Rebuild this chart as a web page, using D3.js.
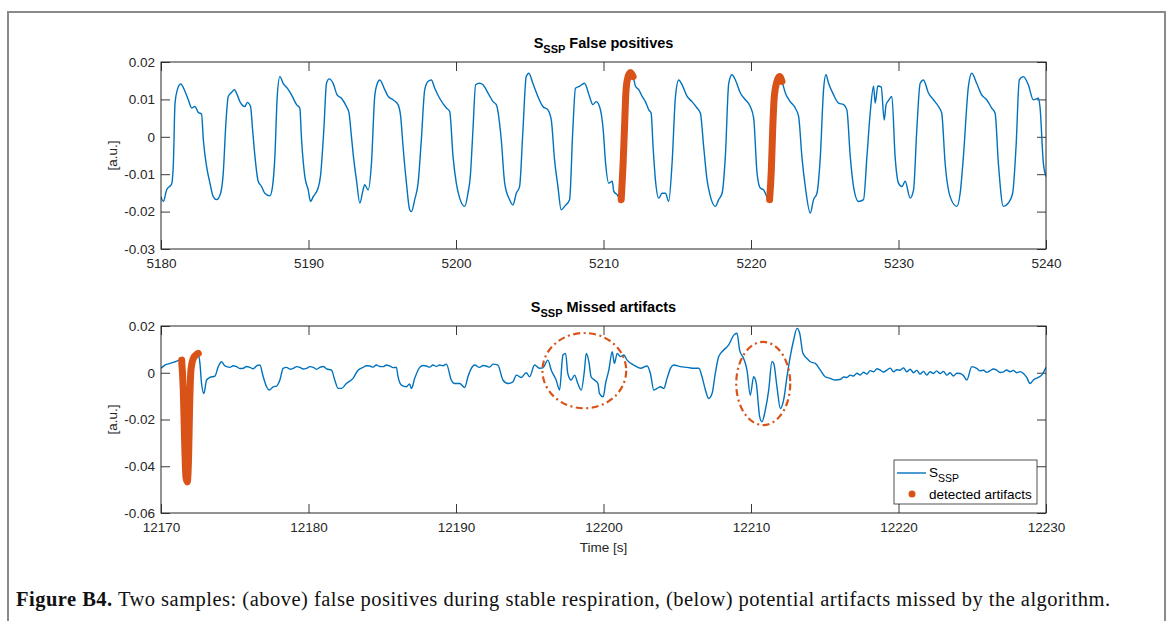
<!DOCTYPE html>
<html>
<head>
<meta charset="utf-8">
<script src="https://cdn.jsdelivr.net/npm/d3@7"></script>
<style>
  body { margin: 0; background: #fff; }
  svg { display: block; }
</style>
</head>
<body>
<script>
// --- data ---
var topTicksX = [5180, 5190, 5200, 5210, 5220, 5230, 5240];
var topTicksY = [-0.03, -0.02, -0.01, 0, 0.01, 0.02];
var bottomTicksX = [12170, 12180, 12190, 12200, 12210, 12220, 12230];
var bottomTicksY = [-0.06, -0.04, -0.02, 0, 0.02];

// S_SSP, false positive sample  [time s, value a.u.]
var topSignal = [
  [5180.00,-0.0160],[5180.16,-0.0173],[5180.38,-0.0142],[5180.72,-0.0126],[5180.84,-0.0070],
  [5180.95,0.0090],[5181.11,0.0126],[5181.33,0.0141],[5181.63,0.0121],[5181.85,0.0099],
  [5182.08,0.0077],[5182.30,0.0081],[5182.53,0.0065],[5182.75,0.0061],[5182.87,-0.0008],
  [5183.09,-0.0079],[5183.32,-0.0124],[5183.54,-0.0160],[5183.77,-0.0168],[5184.04,-0.0151],
  [5184.22,-0.0097],[5184.40,0.0037],[5184.56,0.0108],[5184.79,0.0119],[5184.97,0.0126],
  [5185.17,0.0112],[5185.35,0.0094],[5185.69,0.0081],[5185.85,0.0092],[5186.07,0.0081],
  [5186.21,0.0019],[5186.37,-0.0053],[5186.59,-0.0119],[5186.82,-0.0133],[5187.04,-0.0151],
  [5187.38,-0.0158],[5187.56,-0.0133],[5187.72,-0.0053],[5187.88,0.0108],[5188.06,0.0161],
  [5188.28,0.0143],[5188.56,0.0130],[5188.85,0.0112],[5189.19,0.0086],[5189.41,0.0077],
  [5189.53,-0.0008],[5189.75,-0.0106],[5189.98,-0.0142],[5190.14,-0.0173],[5190.32,-0.0160],
  [5190.65,-0.0137],[5190.81,-0.0106],[5191.04,0.0019],[5191.22,0.0143],[5191.40,0.0155],
  [5191.67,0.0143],[5191.94,0.0112],[5192.23,0.0103],[5192.57,0.0081],[5192.75,0.0063],
  [5192.91,0.0001],[5193.07,-0.0061],[5193.25,-0.0115],[5193.48,-0.0177],[5193.70,-0.0142],
  [5193.81,-0.0128],[5194.04,-0.0142],[5194.27,-0.0070],[5194.49,0.0108],[5194.67,0.0143],
  [5194.83,0.0152],[5195.17,0.0126],[5195.40,0.0108],[5195.73,0.0099],[5196.07,0.0086],
  [5196.25,0.0054],[5196.41,-0.0026],[5196.64,-0.0124],[5196.86,-0.0195],[5196.98,-0.0200],
  [5197.20,-0.0168],[5197.43,-0.0124],[5197.65,-0.0008],[5197.88,0.0126],[5198.10,0.0148],
  [5198.33,0.0152],[5198.56,0.0130],[5198.89,0.0103],[5199.35,0.0077],[5199.57,0.0068],
  [5199.80,-0.0053],[5200.02,-0.0124],[5200.25,-0.0164],[5200.59,-0.0186],[5200.81,-0.0151],
  [5200.97,-0.0106],[5201.15,0.0019],[5201.33,0.0139],[5201.60,0.0143],[5201.83,0.0139],
  [5202.17,0.0117],[5202.51,0.0094],[5202.73,0.0086],[5203.07,-0.0008],[5203.30,-0.0124],
  [5203.63,-0.0168],[5203.86,-0.0182],[5204.09,-0.0151],[5204.31,-0.0133],[5204.54,0.0019],
  [5204.76,0.0161],[5204.94,0.0170],[5205.21,0.0143],[5205.55,0.0108],[5205.89,0.0081],
  [5206.23,0.0072],[5206.46,0.0045],[5206.68,-0.0061],[5206.91,-0.0133],[5207.13,-0.0195],
  [5207.36,-0.0186],[5207.70,-0.0168],[5207.92,0.0019],[5208.10,0.0130],[5208.37,0.0135],
  [5208.71,0.0143],[5209.05,0.0108],[5209.28,0.0086],[5209.50,0.0094],[5209.73,0.0081],
  [5209.98,0.0019],[5210.14,-0.0070],[5210.36,-0.0124],[5210.59,-0.0119],[5210.70,-0.0146],
  [5210.93,-0.0155],[5211.15,-0.0168],[5211.20,-0.0168],[5211.33,-0.0070],[5211.42,0.0019],
  [5211.53,0.0126],[5211.67,0.0161],[5211.83,0.0172],[5212.01,0.0161],[5212.17,0.0135],
  [5212.39,0.0126],[5212.62,0.0108],[5212.84,0.0094],[5213.07,0.0072],[5213.23,0.0063],
  [5213.36,-0.0026],[5213.52,-0.0115],[5213.75,-0.0164],[5213.97,-0.0151],[5214.20,-0.0151],
  [5214.42,-0.0173],[5214.65,-0.0070],[5214.88,0.0108],[5215.10,0.0152],[5215.33,0.0139],
  [5215.67,0.0108],[5216.00,0.0094],[5216.34,0.0077],[5216.57,0.0063],[5216.79,-0.0026],
  [5217.02,-0.0115],[5217.25,-0.0160],[5217.58,-0.0186],[5217.81,-0.0168],[5218.04,-0.0151],
  [5218.26,-0.0053],[5218.49,0.0143],[5218.71,0.0166],[5218.94,0.0152],[5219.28,0.0117],
  [5219.62,0.0099],[5219.95,0.0081],[5220.18,0.0050],[5220.41,-0.0097],[5220.63,-0.0137],
  [5220.86,-0.0142],[5221.20,-0.0168],[5221.26,-0.0168],[5221.38,-0.0088],[5221.47,0.0019],
  [5221.58,0.0108],[5221.76,0.0148],[5221.94,0.0161],[5222.10,0.0148],[5222.33,0.0117],
  [5222.66,0.0094],[5223.00,0.0077],[5223.23,0.0054],[5223.45,-0.0053],[5223.68,-0.0133],
  [5224.02,-0.0204],[5224.24,-0.0168],[5224.47,-0.0151],[5224.70,-0.0053],[5224.92,0.0126],
  [5225.08,0.0166],[5225.26,0.0143],[5225.60,0.0112],[5225.94,0.0090],[5226.28,0.0086],
  [5226.50,0.0072],[5226.73,-0.0053],[5226.95,-0.0133],[5227.29,-0.0173],[5227.63,-0.0168],
  [5227.86,-0.0053],[5228.08,0.0063],[5228.31,0.0135],[5228.42,0.0090],[5228.60,0.0136],
  [5228.83,0.0133],[5229.03,0.0045],[5229.16,0.0086],[5229.32,0.0097],[5229.55,0.0108],
  [5229.77,-0.0053],[5230.00,-0.0124],[5230.23,-0.0133],[5230.45,-0.0119],[5230.79,-0.0164],
  [5231.02,-0.0142],[5231.24,0.0019],[5231.47,0.0143],[5231.69,0.0152],[5232.03,0.0117],
  [5232.37,0.0099],[5232.71,0.0081],[5232.93,0.0063],[5233.16,-0.0070],[5233.50,-0.0160],
  [5233.95,-0.0186],[5234.18,-0.0151],[5234.40,-0.0053],[5234.74,0.0135],[5234.97,0.0170],
  [5235.30,0.0143],[5235.64,0.0112],[5235.98,0.0099],[5236.32,0.0077],[5236.55,0.0063],
  [5236.77,-0.0070],[5237.11,-0.0186],[5237.45,-0.0177],[5237.74,-0.0151],[5237.97,-0.0026],
  [5238.19,0.0152],[5238.47,0.0161],[5238.80,0.0139],[5239.14,0.0099],[5239.48,0.0103],
  [5239.59,0.0081],[5239.82,-0.0070],[5240.00,-0.0106]
];

// detected artifacts on the upper sample
var topArtifacts = [
  [[5211.20,-0.0168],[5211.33,-0.0070],[5211.42,0.0019],[5211.53,0.0126],[5211.67,0.0161],[5211.83,0.0172],[5212.01,0.0161]],
  [[5221.26,-0.0168],[5221.38,-0.0088],[5221.47,0.0019],[5221.58,0.0108],[5221.76,0.0148],[5221.94,0.0161],[5222.10,0.0148]]
];

// S_SSP, missed artifact sample
var bottomSignal = [
  [12170.00,0.0019],[12170.27,0.0033],[12170.61,0.0040],[12170.95,0.0047],[12171.29,0.0054],
  [12171.40,0.0054],[12171.51,-0.0074],[12171.60,-0.0289],[12171.69,-0.0446],[12171.78,-0.0467],
  [12171.87,-0.0360],[12171.94,-0.0146],[12172.03,0.0011],[12172.19,0.0061],[12172.37,0.0076],
  [12172.53,0.0083],[12172.64,0.0040],[12172.75,-0.0046],[12172.91,-0.0089],[12173.09,-0.0031],
  [12173.32,-0.0020],[12173.66,-0.0014],[12173.88,0.0026],[12174.11,0.0047],[12174.33,0.0029],
  [12174.67,0.0023],[12174.90,0.0030],[12175.12,0.0026],[12175.35,0.0018],[12175.58,0.0019],
  [12175.80,0.0027],[12176.03,0.0023],[12176.25,0.0017],[12176.48,0.0029],[12176.70,0.0033],
  [12176.93,-0.0017],[12177.16,-0.0060],[12177.34,-0.0074],[12177.61,-0.0060],[12177.83,-0.0057],
  [12178.06,-0.0031],[12178.28,0.0019],[12178.51,0.0023],[12178.75,0.0015],[12178.96,0.0019],
  [12179.20,0.0026],[12179.41,0.0023],[12179.64,0.0016],[12179.86,0.0019],[12180.10,0.0026],
  [12180.32,0.0023],[12180.55,0.0015],[12180.77,0.0023],[12181.00,0.0027],[12181.22,0.0017],
  [12181.56,0.0011],[12181.78,-0.0031],[12182.01,-0.0067],[12182.23,-0.0067],[12182.57,-0.0046],
  [12183.02,-0.0024],[12183.36,0.0011],[12183.70,0.0023],[12183.92,0.0030],[12184.15,0.0029],
  [12184.38,0.0024],[12184.60,0.0033],[12184.83,0.0027],[12185.06,0.0026],[12185.28,0.0033],
  [12185.51,0.0029],[12185.74,0.0022],[12185.96,0.0023],[12186.07,-0.0017],[12186.30,-0.0053],
  [12186.64,-0.0060],[12186.85,-0.0048],[12186.98,-0.0067],[12187.20,-0.0024],[12187.54,0.0023],
  [12187.77,0.0031],[12187.99,0.0029],[12188.22,0.0024],[12188.44,0.0033],[12188.67,0.0027],
  [12188.89,0.0033],[12189.12,0.0030],[12189.35,0.0037],[12189.68,-0.0031],[12189.91,-0.0046],
  [12190.25,-0.0046],[12190.59,-0.0063],[12190.81,-0.0017],[12191.04,0.0019],[12191.26,0.0033],
  [12191.60,0.0023],[12191.83,0.0031],[12192.05,0.0029],[12192.28,0.0024],[12192.51,0.0037],
  [12192.84,0.0033],[12193.18,-0.0031],[12193.52,-0.0046],[12193.86,-0.0039],[12194.09,-0.0010],
  [12194.42,-0.0020],[12194.76,0.0000],[12194.99,-0.0017],[12195.33,0.0033],[12195.67,0.0019],
  [12195.89,0.0021],[12196.23,0.0054],[12196.46,0.0011],[12196.79,-0.0031],[12197.02,-0.0074],
  [12197.25,0.0076],[12197.43,0.0083],[12197.58,-0.0003],[12197.81,-0.0031],[12198.04,-0.0010],
  [12198.26,-0.0046],[12198.49,-0.0074],[12198.71,0.0011],[12198.83,0.0083],[12199.01,0.0047],
  [12199.16,-0.0017],[12199.39,-0.0031],[12199.62,-0.0046],[12199.73,-0.0089],[12199.98,-0.0103],
  [12200.14,-0.0046],[12200.36,0.0011],[12200.59,0.0090],[12200.74,0.0040],[12200.93,0.0083],
  [12201.15,0.0069],[12201.38,0.0076],[12201.60,0.0054],[12202.05,0.0033],[12202.51,0.0019],
  [12202.96,0.0029],[12203.18,-0.0003],[12203.41,-0.0074],[12203.63,-0.0067],[12203.86,-0.0060],
  [12204.09,-0.0067],[12204.31,-0.0024],[12204.54,0.0019],[12204.76,0.0033],[12205.21,0.0026],
  [12205.67,0.0023],[12206.12,0.0019],[12206.46,0.0019],[12206.68,-0.0017],[12206.91,-0.0074],
  [12207.13,-0.0110],[12207.36,-0.0089],[12207.58,-0.0003],[12207.81,0.0069],[12208.15,0.0097],
  [12208.49,0.0119],[12208.83,0.0161],[12209.05,0.0169],[12209.23,0.0097],[12209.50,0.0061],
  [12209.73,0.0011],[12209.95,-0.0096],[12210.18,-0.0017],[12210.36,-0.0046],[12210.59,-0.0189],
  [12210.74,-0.0210],[12210.97,-0.0160],[12211.20,-0.0074],[12211.42,0.0047],[12211.54,0.0040],
  [12211.76,-0.0060],[12211.99,-0.0153],[12212.21,-0.0117],[12212.44,-0.0017],[12212.66,0.0069],
  [12212.89,0.0140],[12213.12,0.0190],[12213.30,0.0169],[12213.52,0.0083],[12213.79,0.0061],
  [12214.02,0.0047],[12214.36,0.0040],[12214.70,0.0011],[12215.03,-0.0017],[12215.37,-0.0024],
  [12215.71,-0.0031],[12216.05,-0.0029],[12216.28,-0.0018],[12216.50,-0.0020],[12216.73,-0.0010],
  [12216.95,-0.0014],[12217.18,-0.0002],[12217.40,-0.0010],[12217.63,0.0002],[12217.86,-0.0006],
  [12218.08,0.0009],[12218.31,0.0004],[12218.54,0.0017],[12218.76,0.0011],[12218.99,0.0003],
  [12219.21,0.0011],[12219.44,0.0020],[12219.66,0.0004],[12219.89,0.0013],[12220.11,0.0011],
  [12220.34,0.0021],[12220.56,0.0004],[12220.79,0.0015],[12221.02,0.0000],[12221.24,0.0010],
  [12221.47,-0.0006],[12221.69,0.0006],[12221.92,-0.0010],[12222.14,0.0004],[12222.37,-0.0003],
  [12222.59,0.0008],[12222.82,-0.0003],[12223.05,0.0006],[12223.27,-0.0010],[12223.50,0.0000],
  [12223.72,-0.0014],[12223.95,-0.0002],[12224.18,-0.0003],[12224.40,-0.0012],[12224.63,-0.0031],
  [12224.97,0.0026],[12225.30,0.0019],[12225.53,0.0008],[12225.76,0.0011],[12225.98,0.0002],
  [12226.21,0.0009],[12226.43,0.0016],[12226.66,0.0011],[12226.88,0.0001],[12227.11,0.0004],
  [12227.33,0.0012],[12227.56,0.0004],[12227.78,0.0010],[12228.01,0.0000],[12228.24,0.0005],
  [12228.47,-0.0003],[12228.69,-0.0020],[12228.92,-0.0046],[12229.14,-0.0031],[12229.48,-0.0020],
  [12229.71,-0.0010],[12230.00,0.0023]
];

// detected artifact on the lower sample
var bottomArtifacts = [
  [[12171.40,0.0054],[12171.51,-0.0074],[12171.60,-0.0289],[12171.69,-0.0446],[12171.78,-0.0467],
   [12171.87,-0.0360],[12171.94,-0.0146],[12172.03,0.0011],[12172.19,0.0061],[12172.37,0.0076],[12172.53,0.0083]]
];

// dash-dot ellipses marking missed artifacts: [centre t, centre v, half-width s, half-height a.u.]
var missedMarks = [
  [12198.7, 0.0009, 2.84, 0.0161],
  [12210.83, -0.0046, 1.83, 0.0178]
];

var blue = "#0072BD";
var orange = "#D95319";
var axisColor = "#262626";

var W = 1172, H = 621;
var left = 161, right = 1046;

var svg = d3.select("body").append("svg")
  .attr("width", W)
  .attr("height", H)
  .style("font-family", "'Liberation Sans', Arial, sans-serif");

// figure frame
svg.append("rect")
  .attr("x", 8).attr("y", 12)
  .attr("width", 1157).attr("height", 630)
  .attr("fill", "none")
  .attr("stroke", "#8a8a8a")
  .attr("stroke-width", 2);

function drawPanel(opts) {
  var x = d3.scaleLinear().domain(opts.xDomain).range([left, right]);
  var y = d3.scaleLinear().domain(opts.yDomain).range([opts.bottom, opts.top]);
  var g = svg.append("g");

  var fmtY = function(d) { return d === 0 ? "0" : d3.format(".2f")(d).replace("\u2212", "-"); };

  // ticks inward on all four sides, like MATLAB box on
  g.append("g")
    .attr("transform", "translate(0," + opts.bottom + ")")
    .call(d3.axisBottom(x).tickValues(opts.xTicks).tickSizeInner(-9).tickSizeOuter(0).tickPadding(9).tickFormat(d3.format("d")));
  g.append("g")
    .attr("transform", "translate(0," + opts.top + ")")
    .call(d3.axisTop(x).tickValues(opts.xTicks).tickSizeInner(-9).tickSizeOuter(0).tickFormat(""));
  g.append("g")
    .attr("transform", "translate(" + left + ",0)")
    .call(d3.axisLeft(y).tickValues(opts.yTicks).tickSizeInner(-9).tickSizeOuter(0).tickPadding(6).tickFormat(fmtY));
  g.append("g")
    .attr("transform", "translate(" + right + ",0)")
    .call(d3.axisRight(y).tickValues(opts.yTicks).tickSizeInner(-9).tickSizeOuter(0).tickFormat(""));

  g.selectAll(".domain").remove();
  g.selectAll(".tick line").attr("stroke", "#3a3a3a").attr("stroke-width", 1);
  g.selectAll(".tick text")
    .attr("fill", axisColor)
    .attr("font-size", 13.5)
    .attr("font-family", "'Liberation Sans', Arial, sans-serif");

  // clip the signal to the axes box
  var clipId = "clip" + opts.top;
  svg.append("clipPath").attr("id", clipId)
    .append("rect")
    .attr("x", left).attr("y", opts.top - 4)
    .attr("width", right - left).attr("height", opts.bottom - opts.top + 8);

  var line = d3.line()
    .curve(d3.curveMonotoneX)
    .x(function(d) { return x(d[0]); })
    .y(function(d) { return y(d[1]); });

  var plot = g.append("g").attr("clip-path", "url(#" + clipId + ")");

  plot.append("path")
    .datum(opts.signal)
    .attr("d", line)
    .attr("fill", "none")
    .attr("stroke", blue)
    .attr("stroke-width", 1.4)
    .attr("stroke-linejoin", "round");

  // detected artifacts: dense dot markers drawn as a heavy round stroke
  plot.selectAll("path.art")
    .data(opts.artifacts)
    .enter()
    .append("path")
    .attr("class", "art")
    .attr("d", line)
    .attr("fill", "none")
    .attr("stroke", orange)
    .attr("stroke-width", 7)
    .attr("stroke-linecap", "round")
    .attr("stroke-linejoin", "round");

  if (opts.marks) {
    g.selectAll("ellipse")
      .data(opts.marks)
      .enter()
      .append("ellipse")
      .attr("cx", function(d) { return x(d[0]); })
      .attr("cy", function(d) { return y(d[1]); })
      .attr("rx", function(d) { return x(d[0] + d[2]) - x(d[0]); })
      .attr("ry", function(d) { return y(d[1] - d[3]) - y(d[1]); })
      .attr("fill", "none")
      .attr("stroke", orange)
      .attr("stroke-width", 2.2)
      .attr("stroke-dasharray", "7,3.5,2,3.5");
  }

  // box
  g.append("rect")
    .attr("x", left).attr("y", opts.top)
    .attr("width", right - left).attr("height", opts.bottom - opts.top)
    .attr("fill", "none")
    .attr("stroke", axisColor)
    .attr("stroke-width", 1);

  // title with subscript
  var t = g.append("text")
    .attr("x", (left + right) / 2)
    .attr("y", opts.top - 14)
    .attr("text-anchor", "middle")
    .attr("font-weight", "bold")
    .attr("font-size", 14.5)
    .attr("fill", "#000");
  t.append("tspan").text("S");
  t.append("tspan").attr("font-size", 11).attr("dy", 5).text("SSP");
  t.append("tspan").attr("dy", -5).text(" " + opts.title);

  // y label
  g.append("text")
    .attr("transform", "translate(117," + (opts.top + opts.bottom) / 2 + ") rotate(-90)")
    .attr("text-anchor", "middle")
    .attr("font-size", 13.5)
    .attr("fill", axisColor)
    .text("[a.u.]");

  return { x: x, y: y, g: g };
}

drawPanel({
  xDomain: [5180, 5240], yDomain: [-0.03, 0.02],
  xTicks: topTicksX, yTicks: topTicksY,
  top: 62, bottom: 249,
  signal: topSignal, artifacts: topArtifacts,
  title: "False positives"
});

drawPanel({
  xDomain: [12170, 12230], yDomain: [-0.06, 0.02],
  xTicks: bottomTicksX, yTicks: bottomTicksY,
  top: 326, bottom: 513,
  signal: bottomSignal, artifacts: bottomArtifacts,
  marks: missedMarks,
  title: "Missed artifacts"
});

// x label
svg.append("text")
  .attr("x", (left + right) / 2)
  .attr("y", 552)
  .attr("text-anchor", "middle")
  .attr("font-size", 13.5)
  .attr("fill", axisColor)
  .text("Time [s]");

// legend
var lg = svg.append("g").attr("transform", "translate(894,460)");
lg.append("rect")
  .attr("width", 143).attr("height", 44)
  .attr("fill", "#fff")
  .attr("stroke", axisColor)
  .attr("stroke-width", 0.8);
lg.append("line")
  .attr("x1", 3).attr("x2", 32).attr("y1", 13).attr("y2", 13)
  .attr("stroke", blue).attr("stroke-width", 1.4);
var l1 = lg.append("text").attr("x", 35).attr("y", 17).attr("font-size", 13.5).attr("fill", "#000");
l1.append("tspan").text("S");
l1.append("tspan").attr("font-size", 10.5).attr("dy", 5).text("SSP");
lg.append("circle")
  .attr("cx", 18).attr("cy", 34).attr("r", 3.5)
  .attr("fill", orange);
lg.append("text").attr("x", 35).attr("y", 39).attr("font-size", 13.5).attr("fill", "#000")
  .text("detected artifacts");

// caption
var cap = svg.append("text")
  .attr("x", 16).attr("y", 606)
  .attr("font-family", "'Liberation Serif', 'Times New Roman', serif")
  .attr("font-size", 20.5)
  .attr("fill", "#111")
  .attr("textLength", 1094)
  .attr("lengthAdjust", "spacing");
cap.append("tspan").attr("font-weight", "bold").text("Figure B4.");
cap.append("tspan").text(" Two samples: (above) false positives during stable respiration, (below) potential artifacts missed by the algorithm.");
</script>
</body>
</html>
